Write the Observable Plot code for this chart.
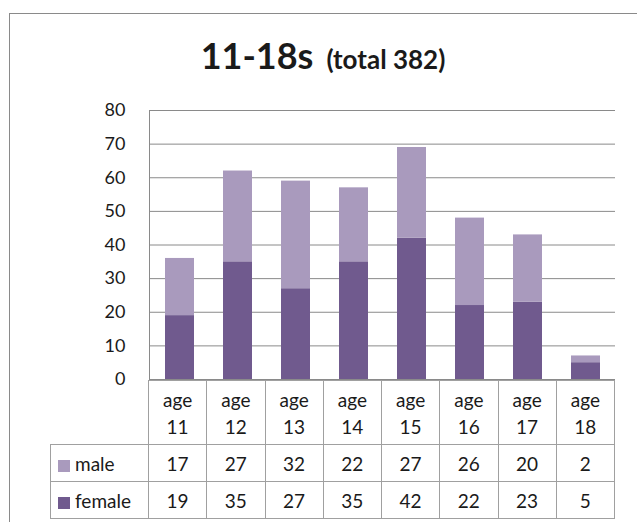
<!DOCTYPE html>
<html><head><meta charset="utf-8">
<script src="https://cdn.jsdelivr.net/npm/d3@7"></script>
<script src="https://cdn.jsdelivr.net/npm/@observablehq/plot@0.6"></script>
<style>
body{margin:0;background:#fff;font-family:Lato,"Open Sans",sans-serif;color:#1a1a1a;}
#wrap{position:relative;width:637px;height:522px;overflow:hidden;background:#fff;}
#frame{position:absolute;left:9px;top:13px;width:700px;height:600px;border:1.5px solid #8a8a8a;}
#title{position:absolute;left:0;width:646px;top:35px;line-height:40px;text-align:center;white-space:nowrap;font-weight:bold;}
#title .big{font-size:36px;}
#title .small{font-size:26px;margin-left:13px;}
#chart{position:absolute;left:0;top:94px;}
#tbl{position:absolute;left:50px;top:380px;border-collapse:collapse;table-layout:fixed;font-size:19px;}
#tbl td{border:1px solid #a0a0a0;text-align:center;padding:0;}
#tbl tr.head td{height:63px;line-height:27px;vertical-align:middle;}
#tbl tr.head td.empty{border-left:none;border-top:none;}
#tbl tr.row td{height:36px;}
#tbl td.lab{text-align:left;padding-left:7px;}
#tbl .sw{display:inline-block;width:12px;height:12px;margin-right:5px;vertical-align:-1px;}
</style>
</head><body>
<div id="wrap">
  <div id="frame"></div>
  <div id="title"><span class="big">11-18s</span><span class="small">(total 382)</span></div>
  <div id="chart"></div>
  <table id="tbl"></table>
</div>
<script>
const categories = ["age 11","age 12","age 13","age 14","age 15","age 16","age 17","age 18"];
const seriesNames = ["male","female"];
const male = [17,27,32,22,27,26,20,2];
const female = [19,35,27,35,42,22,23,5];
const yTicks = [0,10,20,30,40,50,60,70,80];
const colors = {male:"#a99abd", female:"#705a8e"};

const data = [];
categories.forEach((c,i)=>data.push({age:c, sex:"female", value:female[i]}));
categories.forEach((c,i)=>data.push({age:c, sex:"male", value:male[i]}));

const chart = Plot.plot({
  width:637, height:299,
  marginTop:16, marginBottom:14, marginLeft:149, marginRight:22,
  style:{fontFamily:"Lato, 'Open Sans', sans-serif", fontSize:"18px", color:"#1a1a1a", background:"transparent"},
  x:{domain:categories, paddingInner:0.5, paddingOuter:0.25, axis:null},
  y:{domain:[0,80], axis:null},
  color:{domain:seriesNames, range:[colors.male, colors.female]},
  marks:[
    Plot.ruleY(yTicks, {stroke:"#8a8a8a", strokeWidth:1}),
    Plot.barY(data, {x:"age", y:"value", fill:"sex"}),
    Plot.axisY({ticks:yTicks, tickSize:0, tickPadding:24, tickFormat:d=>String(d), fill:"#1a1a1a", label:null}),
    Plot.frame({anchor:"left", stroke:"#8a8a8a"})
  ]
});
document.getElementById("chart").appendChild(chart);

const colW = (637-22-149)/categories.length;
const tbl = d3.select("#tbl");
const cg = tbl.append("colgroup");
cg.append("col").style("width", "98px");
categories.forEach(()=>cg.append("col").style("width", colW+"px"));
const head = tbl.append("tr").attr("class","head");
head.append("td").attr("class","empty");
categories.forEach(c=>{
  const [a,b] = c.split(" ");
  head.append("td").html(a+"<br>"+b);
});
const rows = {male, female};
seriesNames.forEach(s=>{
  const tr = tbl.append("tr").attr("class","row");
  tr.append("td").attr("class","lab").html(`<span class="sw" style="background:${colors[s]}"></span>${s}`);
  rows[s].forEach(v=>tr.append("td").text(v));
});
</script>
</body></html>
